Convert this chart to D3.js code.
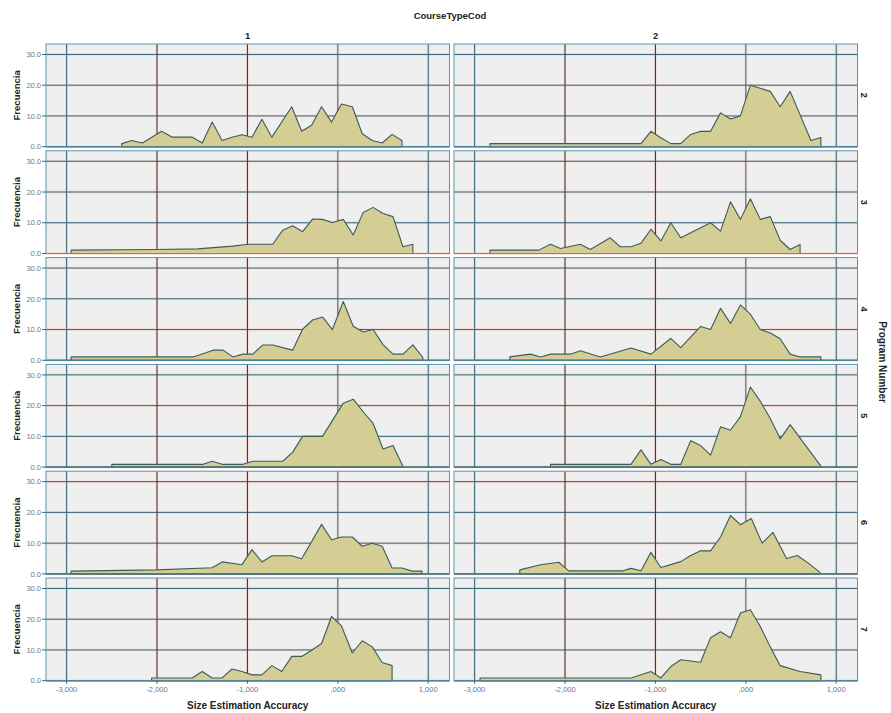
<!doctype html>
<html lang="en">
<head>
  <meta charset="utf-8">
  <script src="https://d3js.org/d3.v7.min.js"></script>
  <style>
    body { margin: 0; background: #fff; }
    text { font-family: Arial, "Liberation Sans", sans-serif; }
  </style>
</head>
<body>
  <script>
    // facet labels and ticks
    const courses = ["1", "2"];
    const programs = ["2", "3", "4", "5", "6", "7"];
    const xTicks = [-3, -2, -1, 0, 1];
    const xTickLabels = ["-3,000", "-2,000", "-1,000", ",000", "1,000"];
    const yTicks = [0, 10, 20, 30];
    const yTickLabels = ["0.0", "10.0", "20.0", "30.0"];

    // frequency polygons, [size estimation accuracy, frequency]
    const prog2course1 = [[-2.39,1],[-2.28,2],[-2.16,1.2],[-1.95,5],[-1.83,3.1],[-1.61,3.1],[-1.50,1.2],[-1.39,8],[-1.28,2],[-1.17,3.1],[-1.06,3.9],[-0.95,3.1],[-0.84,8.9],[-0.73,3.1],[-0.51,13],[-0.40,5],[-0.29,7],[-0.18,13],[-0.07,8],[0.04,13.9],[0.16,13],[0.27,4.2],[0.38,2],[0.49,1.2],[0.60,4],[0.71,2]];
    const prog2course2 = [[-2.83,1],[-1.16,1],[-1.05,5],[-0.94,2.9],[-0.83,1],[-0.72,1],[-0.61,4],[-0.50,5],[-0.39,5],[-0.28,11],[-0.17,9],[-0.06,10],[0.05,20],[0.16,19],[0.27,18],[0.38,13],[0.49,18],[0.72,2],[0.83,3]];
    const prog3course1 = [[-2.95,1.1],[-2.01,1.3],[-1.55,1.5],[-1.16,2.4],[-0.99,3],[-0.72,3],[-0.61,7.6],[-0.50,9],[-0.39,7.1],[-0.28,11.2],[-0.17,11.1],[-0.06,10.1],[0.06,11.1],[0.17,6],[0.28,13.3],[0.39,15],[0.50,13],[0.61,12],[0.72,2.2],[0.83,3]];
    const prog3course2 = [[-2.83,1.1],[-2.29,1.1],[-2.16,3],[-2.05,1.6],[-1.83,3],[-1.72,1.3],[-1.50,5.1],[-1.39,2.2],[-1.27,2.2],[-1.16,3.3],[-1.05,7.9],[-0.94,4.1],[-0.83,10],[-0.72,5.1],[-0.39,10],[-0.28,7.3],[-0.17,16.8],[-0.06,11.1],[0.05,17.8],[0.16,11.1],[0.27,12],[0.38,4.3],[0.49,1.3],[0.60,2.9]];
    const prog4course1 = [[-2.95,1.1],[-1.60,1.1],[-1.38,3.3],[-1.27,3.3],[-1.16,1.1],[-1.05,2],[-0.94,2],[-0.83,5],[-0.72,5],[-0.50,3.3],[-0.39,10.1],[-0.28,13.1],[-0.17,14.1],[-0.06,10],[0.06,19.1],[0.17,11.1],[0.28,9.2],[0.39,10],[0.50,5.1],[0.61,2],[0.72,2],[0.83,5],[0.94,0.9]];
    const prog4course2 = [[-2.61,1.1],[-2.49,1.6],[-2.38,2],[-2.27,1.1],[-2.16,2],[-1.94,2],[-1.83,3.1],[-1.61,1.1],[-1.27,4],[-1.05,2],[-0.83,7.1],[-0.72,4.1],[-0.50,11],[-0.39,10],[-0.28,16.9],[-0.17,12],[-0.06,18],[0.05,15],[0.16,10],[0.27,8.9],[0.38,7],[0.49,2],[0.60,1.1],[0.83,1.1]];
    const prog5course1 = [[-2.50,0.9],[-1.49,0.9],[-1.39,1.9],[-1.28,0.9],[-1.05,0.9],[-0.94,1.9],[-0.61,1.9],[-0.50,4.8],[-0.39,10],[-0.17,10],[0.06,20.8],[0.17,22.1],[0.28,18],[0.39,14.2],[0.50,5.9],[0.61,7],[0.72,0.3]];
    const prog5course2 = [[-2.16,0.9],[-1.27,0.9],[-1.16,5.6],[-1.05,0.9],[-0.94,2.5],[-0.83,0.9],[-0.72,0.9],[-0.61,8.6],[-0.50,7],[-0.39,3.9],[-0.28,13.1],[-0.17,12],[-0.06,16.4],[0.05,26],[0.16,21.4],[0.27,15.8],[0.38,9.2],[0.49,13.8],[0.83,0.3]];
    const prog6course1 = [[-2.95,0.9],[-2.00,1.3],[-1.39,2],[-1.28,3.9],[-1.06,3],[-0.95,7.9],[-0.84,3.9],[-0.73,5.9],[-0.51,5.9],[-0.40,4.9],[-0.18,16.1],[-0.07,11.1],[0.04,12],[0.16,12],[0.27,9],[0.38,10],[0.49,9],[0.60,1.9],[0.71,1.9],[0.82,0.9],[0.93,0.9]];
    const prog6course2 = [[-2.50,1.3],[-2.27,3],[-2.07,3.8],[-1.96,1],[-1.36,1],[-1.27,1.8],[-1.16,1],[-1.05,7],[-0.94,2.1],[-0.72,4],[-0.61,6],[-0.50,7.5],[-0.39,7.5],[-0.28,12],[-0.17,19],[-0.06,16],[0.06,18],[0.18,10],[0.30,13.5],[0.45,5],[0.57,6],[0.69,3.5],[0.82,0.5]];
    const prog7course1 = [[-2.06,0.9],[-1.61,0.9],[-1.50,3],[-1.39,0.9],[-1.28,0.9],[-1.17,3.8],[-1.06,3],[-0.95,1.9],[-0.84,1.9],[-0.73,4.9],[-0.62,3],[-0.51,7.9],[-0.40,7.9],[-0.29,9.9],[-0.18,12.1],[-0.07,20.9],[0.04,17.8],[0.16,9],[0.27,13],[0.38,11],[0.49,5.9],[0.60,4.9]];
    const prog7course2 = [[-2.94,0.9],[-1.27,0.9],[-1.05,3],[-0.94,0.9],[-0.83,4.6],[-0.72,6.8],[-0.50,6],[-0.39,14],[-0.28,15.9],[-0.17,14],[-0.06,22],[0.05,23.1],[0.16,17.6],[0.27,11],[0.38,4.9],[0.60,3],[0.83,1.9]];

    const panels = [
      [prog2course1, prog2course2],
      [prog3course1, prog3course2],
      [prog4course1, prog4course2],
      [prog5course1, prog5course2],
      [prog6course1, prog6course2],
      [prog7course1, prog7course2]
    ];

    const width = 891, height = 713;
    const colLeft = [46, 454], colW = 403.5;
    const rowTop = 44, rowPitch = 106.8, rowH = 102.7;

    const svg = d3.select("body").append("svg")
      .attr("width", width).attr("height", height);

    const halo = "#f2d9d2";
    const teal = "#35667c";
    const dark = "#3b3030";

    courses.forEach((c, ci) => {
      const x = d3.scaleLinear().domain([-3.228, 1.235]).range([colLeft[ci], colLeft[ci] + colW]);

      programs.forEach((p, ri) => {
        const top = rowTop + ri * rowPitch;
        const y = d3.scaleLinear().domain([0, 33.4]).range([top + rowH, top]);
        const g = svg.append("g");

        g.append("rect")
          .attr("x", x.range()[0]).attr("y", top)
          .attr("width", colW).attr("height", rowH)
          .attr("fill", "#efefef");

        // grid, with a faint halo like the scanned original
        yTicks.forEach(t => {
          g.append("line").attr("x1", x.range()[0]).attr("x2", x.range()[1])
            .attr("y1", y(t)).attr("y2", y(t))
            .attr("stroke", halo).attr("stroke-width", 2.5);
        });
        xTicks.forEach(t => {
          g.append("line").attr("x1", x(t)).attr("x2", x(t))
            .attr("y1", top).attr("y2", top + rowH)
            .attr("stroke", halo).attr("stroke-width", 2.5);
        });
        yTicks.forEach(t => {
          g.append("line").attr("x1", x.range()[0]).attr("x2", x.range()[1])
            .attr("y1", y(t)).attr("y2", y(t))
            .attr("stroke", teal).attr("stroke-width", 1);
        });
        xTicks.forEach(t => {
          g.append("line").attr("x1", x(t)).attr("x2", x(t))
            .attr("y1", top).attr("y2", top + rowH)
            .attr("stroke", (t === -2 || t === -1) ? dark : teal).attr("stroke-width", 1);
        });

        const area = d3.area()
          .x(d => x(d[0]))
          .y0(y(0))
          .y1(d => y(d[1]));

        g.append("path")
          .datum(panels[ri][ci])
          .attr("d", area)
          .attr("fill", "#d4cd94")
          .attr("stroke", "#3d5c58")
          .attr("stroke-width", 1.1)
          .attr("stroke-linejoin", "round");

        g.append("line").attr("x1", x.range()[0]).attr("x2", x.range()[1])
          .attr("y1", y(0)).attr("y2", y(0))
          .attr("stroke", "#2f3a3a").attr("stroke-width", 1);

        g.append("rect")
          .attr("x", x.range()[0]).attr("y", top)
          .attr("width", colW).attr("height", rowH)
          .attr("fill", "none").attr("stroke", "#5a93ab").attr("stroke-width", 1);

        // y axis on the left column only
        if (ci === 0) {
          yTicks.forEach((t, i) => {
            g.append("line").attr("x1", x.range()[0] - 4).attr("x2", x.range()[0])
              .attr("y1", y(t)).attr("y2", y(t))
              .attr("stroke", teal);
            g.append("text")
              .attr("x", x.range()[0] - 5).attr("y", y(t) + 2.7)
              .attr("text-anchor", "end")
              .attr("font-size", 7.5).attr("fill", "#6b7a86")
              .text(yTickLabels[i]);
          });
          g.append("text")
            .attr("transform", `translate(20,${top + rowH / 2}) rotate(-90)`)
            .attr("text-anchor", "middle")
            .attr("font-size", 9.5).attr("font-weight", "bold").attr("fill", "#222")
            .text("Frecuencia");
        } else {
          g.append("text")
            .attr("transform", `translate(861,${top + rowH / 2}) rotate(90)`)
            .attr("text-anchor", "middle")
            .attr("font-size", 9).attr("font-weight", "bold").attr("fill", "#222")
            .text(p);
        }

        // x axis under the last row
        if (ri === programs.length - 1) {
          xTicks.forEach((t, i) => {
            g.append("line").attr("x1", x(t)).attr("x2", x(t))
              .attr("y1", top + rowH).attr("y2", top + rowH + 3)
              .attr("stroke", teal);
            g.append("text")
              .attr("x", x(t)).attr("y", 692)
              .attr("text-anchor", "middle")
              .attr("font-size", 7.5).attr("fill", "#6b7a86")
              .text(xTickLabels[i]);
          });
          g.append("text")
            .attr("x", (x.range()[0] + x.range()[1]) / 2).attr("y", 709)
            .attr("text-anchor", "middle")
            .attr("font-size", 10).attr("font-weight", "bold").attr("fill", "#222")
            .text("Size Estimation Accuracy");
        }
      });

      svg.append("text")
        .attr("x", (colLeft[ci] + colLeft[ci] + colW) / 2).attr("y", 39)
        .attr("text-anchor", "middle")
        .attr("font-size", 9.5).attr("font-weight", "bold").attr("fill", "#222")
        .text(c);
    });

    svg.append("text")
      .attr("x", 450).attr("y", 19)
      .attr("text-anchor", "middle")
      .attr("font-size", 9.5).attr("font-weight", "bold").attr("fill", "#222")
      .text("CourseTypeCod");

    svg.append("text")
      .attr("transform", "translate(879,362) rotate(90)")
      .attr("text-anchor", "middle")
      .attr("font-size", 10).attr("font-weight", "bold").attr("fill", "#222")
      .text("Program Number");
  </script>
</body>
</html>
